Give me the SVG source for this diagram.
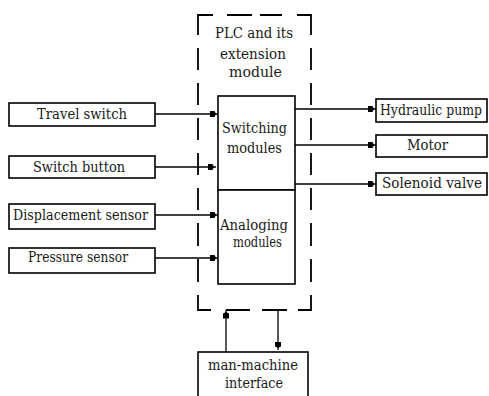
<svg xmlns="http://www.w3.org/2000/svg" width="489" height="396" viewBox="0 0 489 396">
  <style>
    .box { fill: #ffffff; stroke: #000000; stroke-width: 1.6; }
    .frame { fill: none; stroke: #000000; stroke-width: 1.8; stroke-linecap: butt; stroke-linejoin: miter; }
    .wire { fill: none; stroke: #000000; stroke-width: 1.3; }
    .lbl { font-family: "DejaVu Serif", "Liberation Serif", serif; font-size: 14.5px; fill: #1a1a1a; }
  </style>
  <defs>
    <marker id="blk" markerUnits="userSpaceOnUse" markerWidth="10" markerHeight="8" refX="8.5" refY="3.5" orient="auto">
      <path d="M0,0.5 H5 L6.5,3.5 L5,6.5 H0 z" fill="#000000"/>
    </marker>
  </defs>
  <rect width="489" height="396" fill="#ffffff"/>

  <!-- PLC enclosure: dashed frame drawn as explicit segments -->
  <g id="plc">
    <path class="frame" d="M198,35 V15 H213 M227,15 H252 M260,15 H282 M297,15 H311 V35
      M311,48 V70 M311,83 V105 M311,118 V140 M311,153 V175 M311,188 V210 M311,223 V246 M311,259 V282
      M311,295 V310 H298 M287,310 H262 M250,310 H226 M211,310 H198 V295
      M198,282 V259 M198,246 V223 M198,210 V188 M198,175 V153 M198,140 V118 M198,105 V83 M198,70 V48"/>
    <text class="lbl" x="215" y="38" textLength="78" lengthAdjust="spacingAndGlyphs">PLC and its</text>
    <text class="lbl" x="220" y="59" textLength="66" lengthAdjust="spacingAndGlyphs">extension</text>
    <text class="lbl" x="229" y="77" textLength="53" lengthAdjust="spacingAndGlyphs">module</text>
  </g>

  <!-- PLC modules -->
  <g id="switching">
    <rect class="box" x="218" y="96" width="77" height="94"/>
    <text class="lbl" x="222" y="133" textLength="65" lengthAdjust="spacingAndGlyphs">Switching</text>
    <text class="lbl" x="227" y="153" textLength="55" lengthAdjust="spacingAndGlyphs">modules</text>
  </g>
  <g id="analoging">
    <rect class="box" x="218" y="190" width="77" height="94"/>
    <text class="lbl" x="220" y="230" textLength="68" lengthAdjust="spacingAndGlyphs">Analoging</text>
    <text class="lbl" x="233" y="247" textLength="49" lengthAdjust="spacingAndGlyphs">modules</text>
  </g>

  <!-- inputs -->
  <g id="travel-switch">
    <rect class="box" x="9" y="103" width="146" height="23"/>
    <text class="lbl" x="37" y="119" textLength="90" lengthAdjust="spacingAndGlyphs">Travel switch</text>
  </g>
  <g id="switch-button">
    <rect class="box" x="9" y="156" width="146" height="22"/>
    <text class="lbl" x="33" y="172" textLength="92" lengthAdjust="spacingAndGlyphs">Switch button</text>
  </g>
  <g id="displacement-sensor">
    <rect class="box" x="9" y="204" width="146" height="25"/>
    <text class="lbl" x="13" y="220" textLength="135" lengthAdjust="spacingAndGlyphs">Displacement sensor</text>
  </g>
  <g id="pressure-sensor">
    <rect class="box" x="9" y="248" width="146" height="25"/>
    <text class="lbl" x="28" y="262" textLength="100" lengthAdjust="spacingAndGlyphs">Pressure sensor</text>
  </g>

  <!-- outputs -->
  <g id="hydraulic-pump">
    <rect class="box" x="376" y="99" width="111" height="23"/>
    <text class="lbl" x="380" y="115" font-size="13.5" textLength="102" lengthAdjust="spacingAndGlyphs">Hydraulic pump</text>
  </g>
  <g id="motor">
    <rect class="box" x="376" y="135" width="111" height="22"/>
    <text class="lbl" x="407" y="150" textLength="41" lengthAdjust="spacingAndGlyphs">Motor</text>
  </g>
  <g id="solenoid-valve">
    <rect class="box" x="376" y="173" width="111" height="22"/>
    <text class="lbl" x="382" y="188" textLength="100" lengthAdjust="spacingAndGlyphs">Solenoid valve</text>
  </g>

  <!-- operator panel -->
  <g id="hmi">
    <rect class="box" x="198" y="352" width="110" height="50"/>
    <text class="lbl" x="208" y="370" textLength="90" lengthAdjust="spacingAndGlyphs">man-machine</text>
    <text class="lbl" x="225" y="388" textLength="58" lengthAdjust="spacingAndGlyphs">interface</text>
  </g>

  <!-- connectors -->
  <g id="connectors">
    <path class="wire" marker-end="url(#blk)" d="M155,114 H218"/>
    <path class="wire" marker-end="url(#blk)" d="M155,167 H216"/>
    <path class="wire" marker-end="url(#blk)" d="M155,215 H218"/>
    <path class="wire" marker-end="url(#blk)" d="M155,258 H218"/>
    <path class="wire" marker-end="url(#blk)" d="M295,109 H376"/>
    <path class="wire" marker-end="url(#blk)" d="M295,145 H376"/>
    <path class="wire" marker-end="url(#blk)" d="M295,184 H376"/>
    <path class="wire" marker-end="url(#blk)" d="M226,352 V310"/>
    <path class="wire" marker-end="url(#blk)" d="M278,310 V350"/>
  </g>
</svg>
